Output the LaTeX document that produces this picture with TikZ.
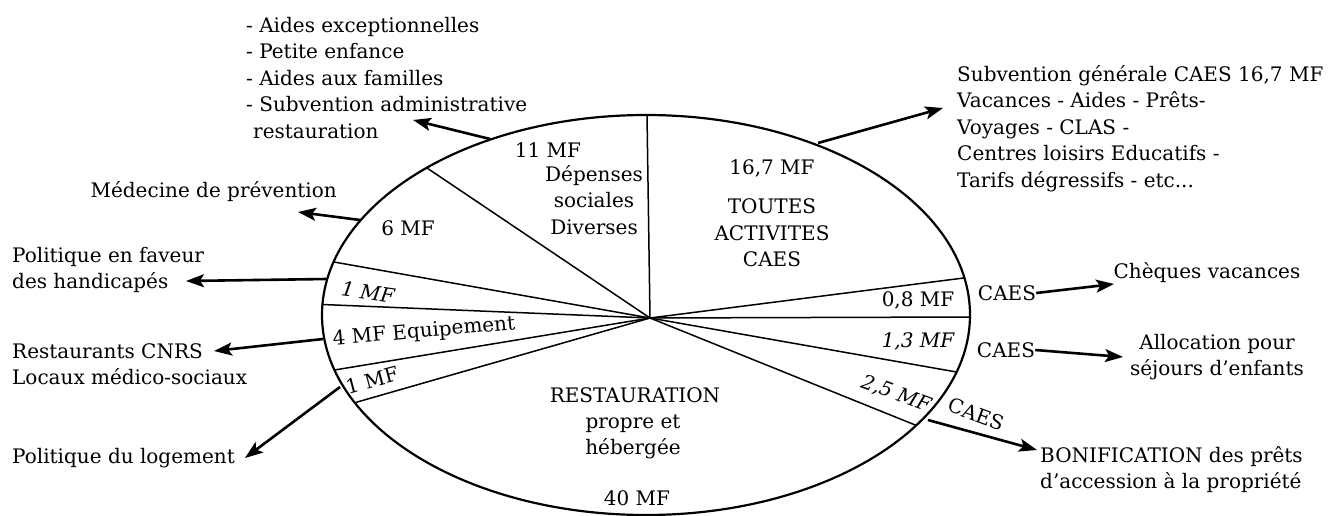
\documentclass[tikz,border=0pt]{standalone}
\usepackage{fontspec}
\setmainfont{DejaVu Serif}
\usetikzlibrary{arrows.meta, positioning}
\tikzstyle{txt} = [inner sep=0pt, font=\fontsize{20}{26.5}\selectfont]
\tikzstyle{lst} = [txt, align=left, anchor=north west]
\tikzstyle{ctr} = [txt, align=center]
\tikzstyle{rim} = [draw, line width=2.2pt]
\tikzstyle{cut} = [draw, line width=1.5pt]
\tikzstyle{arr} = [draw, line width=2.6pt, -{Stealth[length=18pt,width=13pt,inset=4pt]}]

\begin{document}
\begin{tikzpicture}[x=1pt, y=-1pt]
				\useasboundingbox (0,0) rectangle (1332,516);
				\path [rim] (646,315) ellipse [x radius=324pt, y radius=200pt];
				\coordinate (hub) at (650,318);
				\path [cut] (hub) -- (647,115);
				\path [cut] (hub) -- (427,168);
				\path [cut] (hub) -- (334,262);
				\path [cut] (hub) -- (322.5,304.5);
				\path [cut] (hub) -- (334.5,370);
				\path [cut] (hub) -- (354.8,402.7);
				\path [cut] (hub) -- (964.4,277.9);
				\path [cut] (hub) -- (970,317);
				\path [cut] (hub) -- (956.5,372);
				\path [cut] (hub) -- (916.2,425.4);

				\node [ctr] (m11) at (548,150) {11 MF};
				\node [ctr] (dep) at (594,200) {Dépenses\\sociales\\Diverses};
				\node [ctr] (m6) at (408,228) {6 MF};
				\node [ctr, rotate=-8] (m1a) at (368,292) {\itshape 1 MF};
				\node [ctr, rotate=5] (equ) at (424,332) {4 MF Equipement};
				\node [ctr, rotate=15] (m1b) at (372,380) {1 MF};
				\node [ctr] (m167) at (772,168) {16,7 MF};
				\node [ctr] (toutes) at (772,233) {TOUTES\\ACTIVITES\\CAES};
				\node [ctr] (m08) at (918,300) {0,8 MF};
				\node [ctr] (m13) at (918,341) {\itshape 1,3 MF};
				\node [ctr, rotate=-20] (m25) at (896,394) {\itshape 2,5 MF};
				\node [ctr] (resto) at (635,395) {RESTAURATION};
				\node [ctr] (prop) at (633,437) {propre et\\hébergée};
				\node [ctr] (m40) at (637,498) {40 MF};

				\node [lst] (aides) at (246,17) {- Aides exceptionnelles\\- Petite enfance\\- Aides aux familles\\- Subvention administrative\\\hspace{0.35em}restauration};
				\node [txt, anchor=base east] (med) at (337,197) {Médecine de prévention};
				\node [lst] (hand) at (12,247) {Politique en faveur\\des handicapés};
				\node [lst] (rest) at (12,343) {Restaurants CNRS\\Locaux médico-sociaux};
				\node [txt, anchor=west] (loge) at (12,458) {Politique du logement};
				\node [lst] (subv) at (957,65) {Subvention générale CAES 16,7 MF\\Vacances - Aides - Prêts-\\Voyages - CLAS -\\Centres loisirs Educatifs -\\Tarifs dégressifs - etc...};
				\node [ctr] (caesa) at (1007,293) {CAES};
				\node [ctr] (caesb) at (1006,350) {CAES};
				\node [ctr, rotate=-20] (caesc) at (976,414) {CAES};
				\node [ctr] (cheq) at (1207,273) {Chèques vacances};
				\node [ctr] (alloc) at (1217,357) {Allocation pour\\séjours d'enfants};
				\node [lst] (boni) at (1040,446) {BONIFICATION des prêts\\d'accession à la propriété};

				\coordinate (aidesT) at (490,139);
				\coordinate (aidesH) at (413,120);
				\coordinate (medT) at (360,220);
				\coordinate (medH) at (298,212);
				\coordinate (handT) at (327,279);
				\coordinate (handH) at (186,281);
				\coordinate (restT) at (323,339);
				\coordinate (restH) at (214,351);
				\coordinate (logeT) at (340,387);
				\coordinate (logeH) at (245,458);
				\coordinate (subvT) at (818,143);
				\coordinate (subvH) at (943,108);
				\coordinate (cheqH) at (1114,284);
				\coordinate (allocH) at (1123,357);
				\coordinate (boniT) at (928,420);
				\coordinate (boniH) at (1037,450);

				\path [arr] (aidesT) -- (aidesH);
				\path [arr] (medT) -- (medH);
				\path [arr] (handT) -- (handH);
				\path [arr] (restT) -- (restH);
				\path [arr] (logeT) -- (logeH);
				\path [arr] (subvT) -- (subvH);
				\path [arr] (caesa.east) -- (cheqH);
				\path [arr] (caesb.east) -- (allocH);
				\path [arr] (boniT) -- (boniH);
\end{tikzpicture}
\end{document}
